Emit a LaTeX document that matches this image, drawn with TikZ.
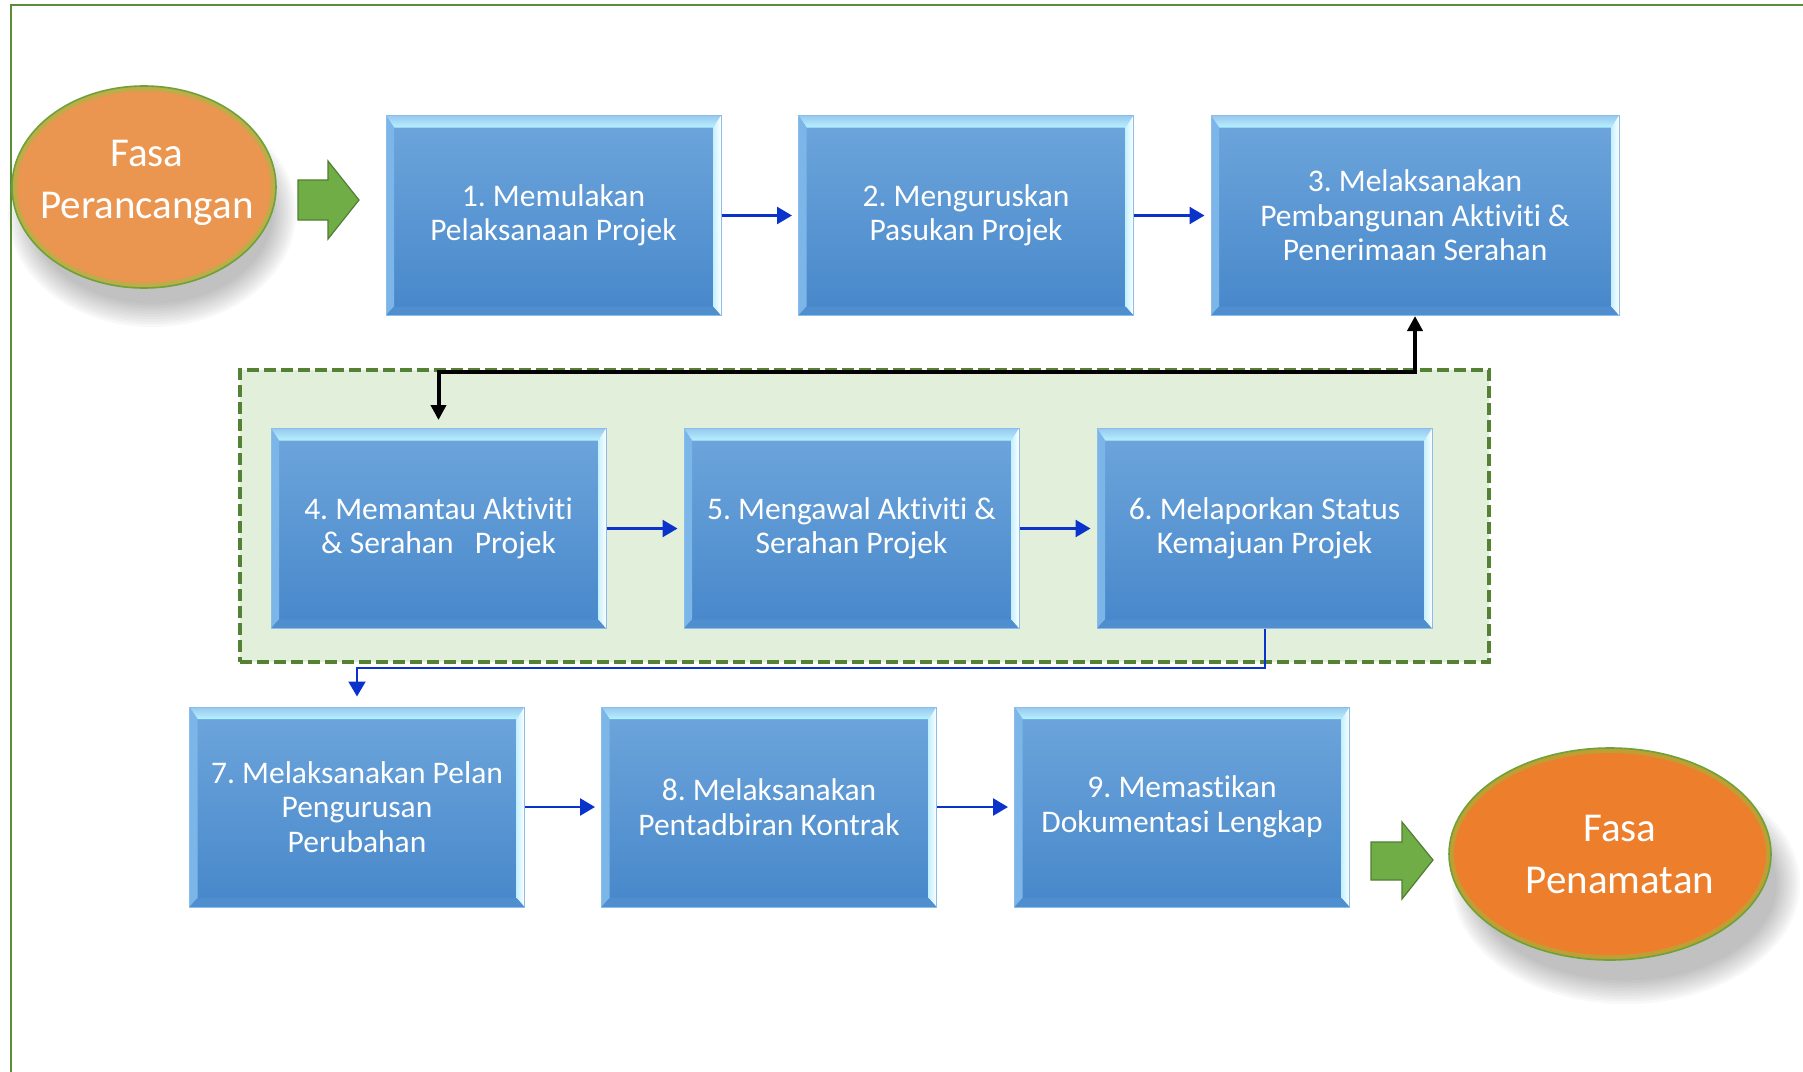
\documentclass[tikz,border=0pt]{standalone}
\usepackage{fontspec}
\setmainfont{Carlito}[Ligatures=NoCommon]
\frenchspacing
\usetikzlibrary{arrows.meta,calc,shapes.geometric,backgrounds}
\definecolor{framegreen}{HTML}{5B8C3A}
\definecolor{zonefill}{HTML}{E2EFDA}
\definecolor{zonedash}{HTML}{548235}
\definecolor{boxtop}{HTML}{6EA6DC}
\definecolor{boxbot}{HTML}{4787CA}
\definecolor{boxedge}{HTML}{8CBDE8}
\definecolor{bevtopA}{HTML}{98C8EE}
\definecolor{bevtopB}{HTML}{B6F1FF}
\definecolor{bevright}{HTML}{C4F0FF}
\definecolor{bevleft}{HTML}{7CB5E8}
\definecolor{bevbot}{HTML}{4F8FCF}
\definecolor{flowblue}{HTML}{0A33CC}
\definecolor{planorange}{HTML}{EA9650}
\definecolor{closeorange}{HTML}{EC7E2C}
\definecolor{ringgreen}{HTML}{8CC63F}
\definecolor{ringedge}{HTML}{6AA33A}
\definecolor{arrowgreen}{HTML}{70AD47}
\definecolor{arrowedge}{HTML}{507E32}
\newcommand{\boxfont}{\fontsize{15.75pt}{17.25pt}\selectfont}
\newcommand{\phasefont}{\fontsize{20.5pt}{26pt}\selectfont}
\tikzset{
  stepbox/.style={rectangle, minimum width=167.5pt, minimum height=100pt, inner sep=3pt,
    align=center, text=white, font=\boxfont, top color=boxtop, bottom color=boxbot,
    draw=boxedge, line width=0.5pt,
    path picture={
      \coordinate (pNW) at (path picture bounding box.north west);
      \coordinate (pNE) at (path picture bounding box.north east);
      \coordinate (pSW) at (path picture bounding box.south west);
      \coordinate (pSE) at (path picture bounding box.south east);
      \shade[top color=bevtopA, bottom color=bevtopB] (pNW) -- (pNE) -- ($(pNE)+(-4pt,-6pt)$) -- ($(pNW)+(4pt,-6pt)$) -- cycle;
      \shade[left color=bevright, right color=white] (pNE) -- (pSE) -- ($(pSE)+(-4pt,4.5pt)$) -- ($(pNE)+(-4pt,-6pt)$) -- cycle;
      \fill[bevleft] (pNW) -- ($(pNW)+(4pt,-6pt)$) -- ($(pSW)+(4pt,4.5pt)$) -- (pSW) -- cycle;
      \fill[bevbot] (pSW) -- ($(pSW)+(4pt,4.5pt)$) -- ($(pSE)+(-4pt,4.5pt)$) -- (pSE) -- cycle;
    }},
  phase/.style 2 args={ellipse, minimum width=2*#1, minimum height=2*#2, inner sep=0pt,
    draw=ringedge, line width=0.8pt,
    path picture={\draw[ringgreen, line width=5pt, opacity=0.45] (path picture bounding box.center) ellipse [x radius=#1, y radius=#2];}},
  phasetext/.style={text=white, font=\phasefont, align=center, inner sep=0pt},
  zone/.style={rectangle, draw=zonedash, fill=zonefill, line width=2pt,
    dash pattern=on 6pt off 2.5pt, minimum width=624.5pt, minimum height=146pt, inner sep=0pt},
  flow/.style={draw=flowblue, line width=1.3pt, -{Triangle[length=7.5pt,width=8.5pt]}, shorten >=3pt},
  backflow/.style={draw=black, line width=2pt,
    {Triangle[length=7.5pt,width=7.5pt]}-{Triangle[length=7.5pt,width=7.5pt]}, shorten >=4pt},
  fatarrow/.style={fill=arrowgreen, draw=arrowedge, line width=0.6pt}
}
\begin{document}
\begin{tikzpicture}[x=0.5pt,y=-0.5pt]
\clip (0,0) rectangle (1803,1071);
\draw[framegreen, line width=1pt] (11,1090) -- (11,5) -- (1820,5);
\node[zone] (zone) at (864.5,516) {};
\node[phase={66pt}{50.5pt}, fill=planorange, label={[phasetext, xshift=1.5pt, yshift=2pt]center:Fasa\\Perancangan}] (plan) at (144,187) {};
\node[phase={80.5pt}{53pt}, fill=closeorange, label={[phasetext, xshift=5pt]center:Fasa\\Penamatan}] (close) at (1610,854) {};
\begin{scope}[on background layer]
\foreach \k in {0,...,9}{
  \fill[black, opacity=0.028] ($(plan.center)+(8,26)$) ellipse [x radius=72pt-\k*1.3pt, y radius=57pt-\k*1.3pt];
  \fill[black, opacity=0.028] ($(close.center)+(16,30)$) ellipse [x radius=87pt-\k*1.3pt, y radius=60pt-\k*1.3pt];
}
\end{scope}
\node[stepbox] (b1) at (553.5,215.5) {1. Memulakan\\Pelaksanaan Projek};
\node[stepbox] (b2) at (966,215.5) {2. Menguruskan\\Pasukan Projek};
\node[stepbox, minimum width=204pt] (b3) at (1415,215.5) {3. Melaksanakan\\Pembangunan Aktiviti \&\\Penerimaan Serahan};
\node[stepbox] (b4) at (438.5,528.5) {4. Memantau Aktiviti\\\& Serahan~~~Projek};
\node[stepbox] (b5) at (851.5,528.5) {5. Mengawal Aktiviti \&\\Serahan Projek};
\node[stepbox] (b6) at (1264.5,528.5) {6. Melaporkan Status\\Kemajuan Projek};
\node[stepbox] (b7) at (357,807) {7. Melaksanakan Pelan\\Pengurusan\\Perubahan};
\node[stepbox] (b8) at (769,807) {8. Melaksanakan\\Pentadbiran Kontrak};
\node[stepbox] (b9) at (1182,807) {9. Memastikan\\Dokumentasi Lengkap};
\foreach \a/\b in {b1/b2,b2/b3,b4/b5,b5/b6,b7/b8,b8/b9}
  \draw[flow] (\a) -- (\b);
\draw[backflow] (b3.south) -- ++(0,56) -| (b4.north);
\draw[flow, line width=1pt, shorten >=5pt] (b6.south) -- ++(0,39) -| (b7.north);
\draw[fatarrow] (298,180) -- (328,180) -- (328,161) -- (359,200) -- (328,239) -- (328,220) -- (298,220) -- cycle;
\draw[fatarrow] (1371,842) -- (1402,842) -- (1402,822) -- (1433,860) -- (1402,899) -- (1402,880) -- (1371,880) -- cycle;
\end{tikzpicture}
\end{document}
